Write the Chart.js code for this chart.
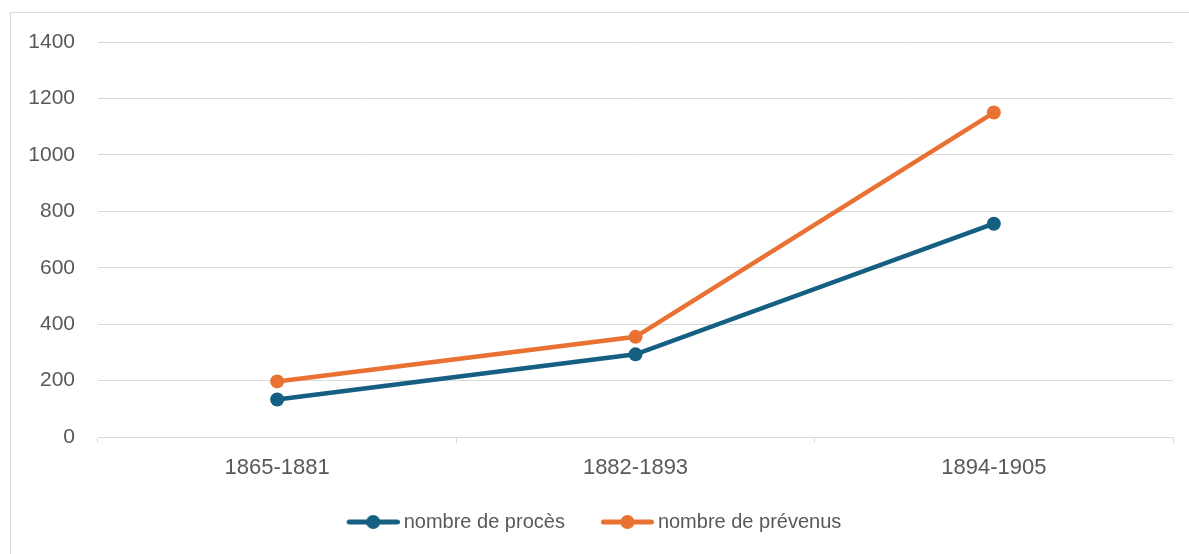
<!DOCTYPE html>
<html>
<head>
<meta charset="utf-8">
<script src="https://cdn.jsdelivr.net/npm/chart.js@4/dist/chart.umd.min.js"></script>
<style>
  html, body { margin: 0; padding: 0; background: #fff; }
  #wrap { position: relative; width: 1189px; height: 554px; }
</style>
</head>
<body>
<div id="wrap"><canvas id="c" width="1189" height="554"></canvas></div>
<script>
// Periods and counts
const periods = ['1865-1881', '1882-1893', '1894-1905'];
const nombreProces = [133, 293, 756];
const nombrePrevenus = [197, 355, 1150];
const yTicks = [0, 200, 400, 600, 800, 1000, 1200, 1400];

const BLUE = '#156082';
const ORANGE = '#E97132';
const TEXT = '#595959';
const GRID = '#d9d9d9';
const FONT = "'Liberation Sans', Arial, sans-serif";

// Legend marker: short line with a dot in the middle,
// with some empty room on its left to space the legend items apart
function legendMarker(color) {
  const c = document.createElement('canvas');
  c.width = 64; c.height = 16;
  const g = c.getContext('2d');
  g.strokeStyle = color; g.lineWidth = 5; g.lineCap = 'round';
  g.beginPath(); g.moveTo(13.5, 8); g.lineTo(61.5, 8); g.stroke();
  g.fillStyle = color;
  g.beginPath(); g.arc(37.5, 8, 7, 0, Math.PI * 2); g.fill();
  return c;
}

// Thin frame around the chart
const framePlugin = {
  id: 'frame',
  beforeDraw(chart) {
    const ctx = chart.ctx;
    ctx.save();
    ctx.strokeStyle = GRID;
    ctx.lineWidth = 1;
    ctx.strokeRect(10.5, 12.5, 1200, 600);
    ctx.restore();
  }
};

new Chart(document.getElementById('c'), {
  type: 'line',
  data: {
    labels: periods,
    datasets: [
      {
        label: 'nombre de procès',
        data: nombreProces,
        borderColor: BLUE,
        backgroundColor: BLUE,
        borderWidth: 4.5,
        pointRadius: 7,
        pointHoverRadius: 7,
        pointBackgroundColor: BLUE,
        pointBorderWidth: 0,
        pointStyle: 'circle',
        tension: 0
      },
      {
        label: 'nombre de prévenus',
        data: nombrePrevenus,
        borderColor: ORANGE,
        backgroundColor: ORANGE,
        borderWidth: 4.5,
        pointRadius: 7,
        pointHoverRadius: 7,
        pointBackgroundColor: ORANGE,
        pointBorderWidth: 0,
        pointStyle: 'circle',
        tension: 0
      }
    ]
  },
  options: {
    responsive: false,
    animation: false,
    devicePixelRatio: 1,
    layout: { padding: { left: 10, right: 16, top: 42, bottom: 12 } },
    plugins: {
      tooltip: { enabled: false },
      legend: {
        position: 'bottom',
        labels: {
          usePointStyle: true,
          pointStyleWidth: 52,
          padding: 31,
          color: TEXT,
          font: { family: FONT, size: 20 },
          generateLabels(chart) {
            return chart.data.datasets.map((ds, i) => ({
              text: ds.label,
              fillStyle: ds.borderColor,
              strokeStyle: ds.borderColor,
              fontColor: TEXT,
              lineWidth: 0,
              pointStyle: legendMarker(ds.borderColor),
              hidden: false,
              datasetIndex: i
            }));
          }
        }
      }
    },
    scales: {
      x: {
        offset: true,
        grid: {
          offset: true,
          drawOnChartArea: false,
          drawTicks: true,
          tickLength: 6,
          color: GRID,
          lineWidth: 1
        },
        border: { display: true, color: GRID, width: 1 },
        ticks: { color: TEXT, font: { family: FONT, size: 22 }, padding: 12 },
        afterFit(s) { s.height = 44; }
      },
      y: {
        min: 0,
        max: 1400,
        afterBuildTicks(s) { s.ticks = yTicks.map(v => ({ value: v })); },
        grid: { color: GRID, lineWidth: 1, drawTicks: false },
        border: { display: false },
        ticks: {
          color: TEXT,
          font: { family: FONT, size: 21 },
          padding: 23,
          callback: v => String(v)
        },
        afterFit(s) { s.width = 88; }
      }
    }
  },
  plugins: [framePlugin]
});
</script>
</body>
</html>
